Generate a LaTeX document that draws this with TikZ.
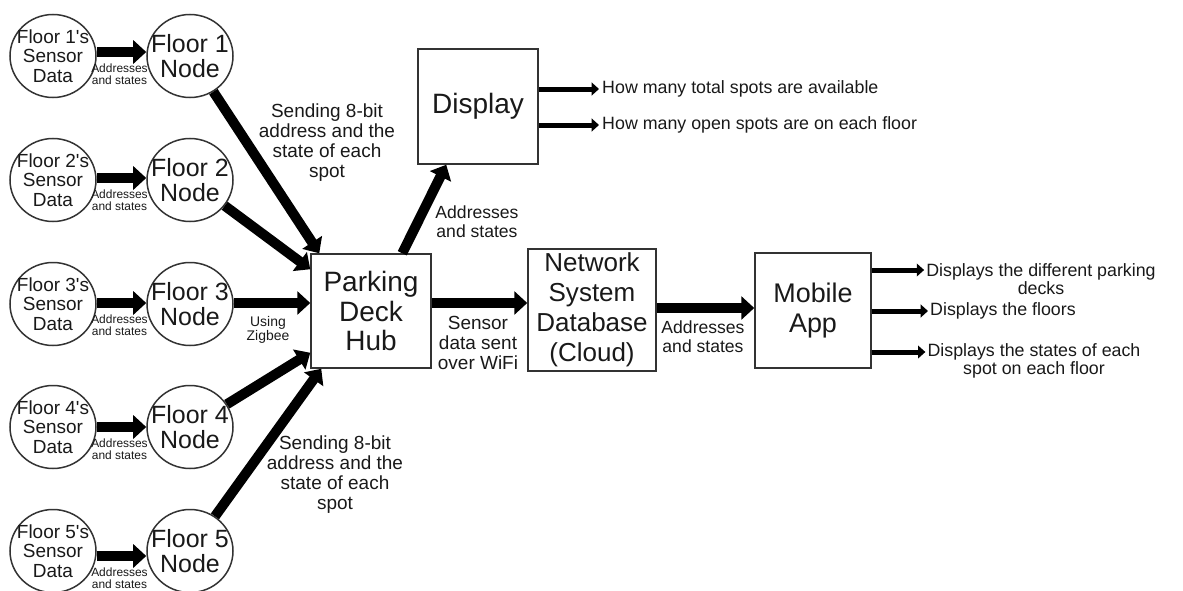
\documentclass[tikz,border=0pt]{standalone}
\usepackage{fontspec}
\setmainfont{Liberation Sans}[Ligatures=TeXOff]
\usetikzlibrary{arrows.meta,shapes.geometric,calc}

\begin{document}
\begin{tikzpicture}[x=0.03cm, y=-0.03cm,
  every node/.style={inner sep=0pt, align=center, text=black!90},
  blob/.style={ellipse, draw=black!80, line width=0.045cm,
    minimum width=2.58cm, minimum height=2.49cm},
  box/.style={rectangle, draw=black!80, line width=0.045cm},
  fat/.style={line width=0.3cm, -{Triangle[length=0.39cm, width=0.69cm]}},
  slim/.style={line width=0.15cm, -{Triangle[length=0.22cm, width=0.38cm]}},
  tiny/.style={font=\fontsize{10.2pt}{10.4pt}\selectfont},
  mid/.style={font=\fontsize{15pt}{16.2pt}\selectfont},
  lab/.style={font=\fontsize{16.2pt}{17.1pt}\selectfont},
  outtext/.style={font=\fontsize{15.2pt}{15.6pt}\selectfont},
  srctext/.style={font=\fontsize{16.2pt}{16.6pt}\selectfont},
  nodetext/.style={font=\fontsize{21.3pt}{21.3pt}\selectfont},
  bigtext/.style={font=\fontsize{23.9pt}{24.8pt}\selectfont}
]
\useasboundingbox (0,0) rectangle (1183,590);

% sensor data sources and floor nodes: outline first, then the words inside
\foreach \i/\y in {1/56, 2/180, 3/304, 4/427, 5/551} {
  \node[blob] (s\i) at (53,\y) {};
  \node[srctext] (s\i t) at (s\i) {Floor \i's\\Sensor\\Data};
  \node[blob] (n\i) at (190,\y) {};
  \node[nodetext] (n\i t) at (n\i) {Floor \i\\Node};
}

% central blocks
\node[box, bigtext, minimum width=3.6cm, minimum height=3.42cm] (hub) at (371,311) {Parking\\Deck\\Hub};
\node[box, bigtext, minimum width=3.6cm, minimum height=3.45cm] (disp) at (478,106.5) {Display};
\node[box, minimum width=3.84cm, minimum height=3.66cm,
  font=\fontsize{22.2pt}{25.6pt}\selectfont] (net) at (592,310) {Network\\System\\Database\\(Cloud)};
\node[box, minimum width=3.48cm, minimum height=3.45cm,
  font=\fontsize{23pt}{25.6pt}\selectfont] (app) at (813,310.5) {Mobile\\App};

% sensor data into each floor node
\foreach \i/\d in {1/-4, 2/-2, 3/-1, 4/0, 5/5} {
  \draw[fat] ($(s\i.east)+(0,\d)$) -- ($(n\i.west)+(0,\d)$);
  \node[tiny] (a\i) at ($(s\i.east)!0.5!(n\i.west)+(-2,\d+22)$) {Addresses\\and states};
}

% floor nodes into the hub
\draw[fat] (n1) -- ($(hub.north west)+(9,0)$);
\draw[fat] (n2) -- ($(hub.north west)+(0,16)$);
\draw[fat] ($(n3.east)+(0,-1)$) -- ($(hub.west |- n3.east)+(0,-1)$);
\draw[fat] (n4) -- ($(hub.south west)+(0,-16)$);
\draw[fat] (n5) -- ($(hub.south west)+(11,0)$);

\node[lab] (send1) at (327,143) {Sending 8-bit\\address and the\\state of each\\spot};
\node[lab] (send2) at (335,475) {Sending 8-bit\\address and the\\state of each\\spot};
\node[font=\fontsize{11.9pt}{12pt}\selectfont] (zig) at (268,330) {Using\\Zigbee};

% hub to display and cloud
\draw[fat] ($(hub.north west)+(92,0)$) -- ($(disp.south west)+(29,0)$);
\node[mid] (lbd) at (477,222) {Addresses\\and states};
\draw[fat] ($(hub.east)+(0,-8)$) -- ($(net.west |- hub.east)+(0,-8)$);
\node[lab] (lbw) at (478,343) {Sensor\\data sent\\over WiFi};

% cloud to app
\draw[fat] ($(net.east)+(0,-2)$) -- ($(app.west |- net.east)+(0,-2)$);
\node[mid] (lba) at (703,337) {Addresses\\and states};

% display outputs
\node[outtext, anchor=west] (d1) at (602,89) {How many total spots are available};
\node[outtext, anchor=west] (d2) at (602,125) {How many open spots are on each floor};
\draw[slim] (disp.east |- d1.west) -- ($(d1.west)+(-3,0)$);
\draw[slim] (disp.east |- d2.west) -- ($(d2.west)+(-3,0)$);

% app outputs
\node[outtext] (o1) at (1041,279) {Displays the different parking\\decks};
\node[outtext, anchor=west] (o2) at (930,311) {Displays the floors};
\node[outtext] (o3) at (1034,361) {Displays the states of each\\spot on each floor};
\coordinate (o1a) at ($(o1.west)+(-2,-9)$);
\coordinate (o2a) at ($(o2.west)+(-2,0)$);
\coordinate (o3a) at ($(o3.west)+(-2,-9)$);
\draw[slim] (app.east |- o1a) -- (o1a);
\draw[slim] (app.east |- o2a) -- (o2a);
\draw[slim] (app.east |- o3a) -- (o3a);
\end{tikzpicture}
\end{document}
